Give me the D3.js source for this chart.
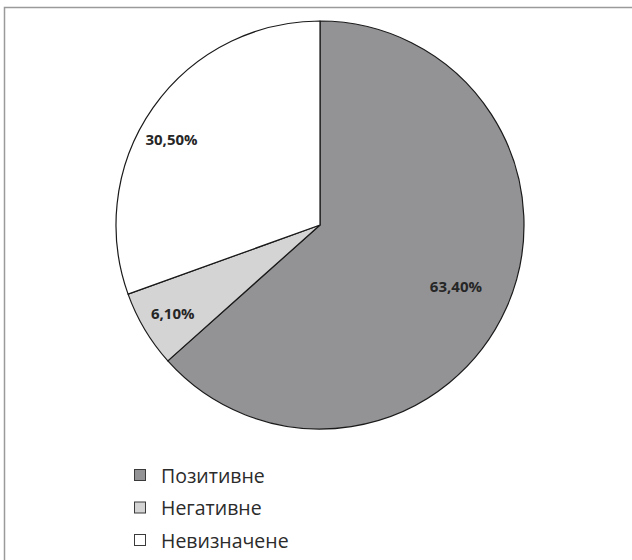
<!DOCTYPE html>
<html>
<head>
<meta charset="utf-8">
<script src="https://cdn.jsdelivr.net/npm/d3@7"></script>
<style>
  body { margin: 0; background: #fff; }
  svg { display: block; }
</style>
</head>
<body>
<div id="chart"></div>
<script>
var categories = ["Позитивне", "Негативне", "Невизначене"]
var values = [63.4, 6.1, 30.5]
var labels = ["63,40%", "6,10%", "30,50%"]
var colors = ["#939396", "#d4d4d4", "#ffffff"]

var w = 632, h = 560
var cx = 320, cy = 225, r = 204

var svg = d3.select("#chart")
  .append("svg")
  .attr("width", w)
  .attr("height", h)

// outer frame, runs past the right and bottom edges
svg.append("rect")
  .attr("x", 4.5).attr("y", 7.5)
  .attr("width", 700).attr("height", 700)
  .attr("fill", "none")
  .attr("stroke", "#9a9a9a")
  .attr("stroke-width", 1.5)

var data = categories.map(function(c, i) {
  return {name: c, value: values[i], label: labels[i], color: colors[i]}
})

var pie = d3.pie().sort(null).value(function(d) { return d.value })
var arc = d3.arc().innerRadius(0).outerRadius(r)

var g = svg.append("g").attr("transform", "translate(" + cx + "," + cy + ")")
var arcs = pie(data)

g.selectAll(".slice")
  .data(arcs)
  .enter()
  .append("path")
  .attr("class", "slice")
  .attr("d", arc)
  .attr("fill", function(d) { return d.data.color })
  .attr("stroke", "#1a1a1a")
  .attr("stroke-width", 1.2)
  .attr("stroke-linejoin", "round")

g.selectAll(".lbl")
  .data(arcs)
  .enter()
  .append("text")
  .attr("class", "lbl")
  .attr("transform", function(d, i) {
    var k = i === 0 ? 0.73 : 0.84
    var a = i === 2 ? (d.startAngle + d.endAngle) / 2 - 0.09 : (d.startAngle + d.endAngle) / 2
    return "translate(" + (Math.sin(a) * r * k) + "," + (-Math.cos(a) * r * k) + ")"
  })
  .attr("text-anchor", "middle")
  .attr("dominant-baseline", "central")
  .attr("font-family", "'Open Sans', sans-serif")
  .attr("font-weight", "bold")
  .attr("font-size", 15)
  .attr("fill", "#262626")
  .text(function(d) { return d.data.label })

var legend = svg.append("g").attr("transform", "translate(134,469)")
var rows = legend.selectAll(".row")
  .data(data)
  .enter()
  .append("g")
  .attr("class", "row")
  .attr("transform", function(d, i) { return "translate(0," + (i * 32.5) + ")" })

rows.append("rect")
  .attr("x", 0.5).attr("y", 0.5)
  .attr("width", 11).attr("height", 11)
  .attr("fill", function(d) { return d.color })
  .attr("stroke", "#3a3a3a")
  .attr("stroke-width", 1)

rows.append("text")
  .attr("x", 27)
  .attr("y", 6)
  .attr("dominant-baseline", "central")
  .attr("font-family", "'Open Sans', sans-serif")
  .attr("font-size", 19.5)
  .attr("fill", "#2b2b2b")
  .text(function(d) { return d.name })
</script>
</body>
</html>
